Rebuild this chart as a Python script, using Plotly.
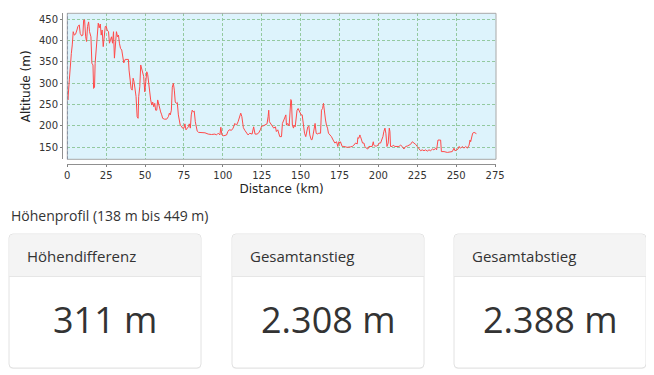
import plotly.graph_objects as go

# ---------------- data ----------------
distance_km = [
    0.0, 0.4, 1.3, 1.9, 2.6, 3.2, 3.8, 4.5, 5.3, 6.2, 6.8, 7.7, 8.3, 9.2, 10.0, 10.5, 11.1, 11.8, 12.4, 13.0,
    13.7, 14.3, 15.2, 15.8, 16.5, 16.9, 17.5, 17.9, 18.6, 19.2, 19.9, 20.5, 21.2, 21.8, 22.4, 23.1, 23.7, 24.4,
    25.0, 25.6, 26.5, 27.1, 27.8, 28.4, 29.1, 29.7, 30.3, 31.0, 31.6, 32.3, 32.9, 33.5, 34.2, 35.0, 35.7, 36.3,
    37.2, 38.2, 39.3, 39.7, 40.4, 41.0, 41.7, 42.3, 42.9, 43.6, 44.2, 44.9, 45.5, 45.9, 46.6, 47.2, 47.9, 48.5,
    49.1, 49.8, 50.4, 51.1, 51.7, 52.4, 53.0, 53.6, 54.3, 54.9, 55.6, 56.2, 56.8, 57.5, 58.1, 58.8, 59.4, 60.0,
    60.7, 61.3, 62.4, 63.9, 65.0, 65.6, 66.2, 66.9, 67.5, 68.2, 68.8, 69.4, 70.1, 70.7, 71.4, 72.0, 72.6, 73.3,
    74.1, 75.0, 75.6, 76.3, 77.1, 77.8, 78.4, 79.1, 79.7, 80.3, 81.0, 81.6, 82.3, 82.9, 83.5, 84.4, 86.3, 88.5,
    90.6, 92.7, 94.9, 95.9, 97.0, 98.1, 98.7, 99.4, 100.6, 102.4, 103.2, 104.1, 105.6, 106.6, 107.7, 108.8,
    109.8, 110.9, 111.5, 112.2, 112.6, 113.2, 114.1, 115.2, 116.2, 117.3,
    118.8, 119.8, 120.7, 122.0, 123.1, 124.1, 125.0, 125.9, 127.4, 128.4, 129.1, 129.5, 129.9, 130.6, 131.7,
    132.7, 133.8, 134.4, 135.3, 136.6, 137.7, 138.3, 139.2, 139.8, 140.5, 140.9, 141.7, 142.6, 143.2, 143.7,
    144.1, 144.7, 145.4, 145.8, 146.5, 147.1, 147.7, 148.4, 149.0, 149.7, 150.3, 151.0, 151.6, 152.5, 153.3,
    154.0, 154.6, 155.3, 155.9, 156.8, 157.4, 158.0, 158.7, 159.3, 160.0, 160.6, 161.7, 162.8, 163.4, 164.1,
    164.7, 165.3, 166.0, 166.6, 167.3, 167.9, 168.8, 169.8, 170.9, 172.0, 173.1, 173.9, 174.6, 175.2, 175.6,
    176.7, 177.8, 179.9, 182.1, 183.2, 184.2, 185.3, 186.4, 186.8, 187.4, 188.1, 188.5, 189.2, 189.8, 190.7,
    191.3, 192.2, 193.2, 193.9, 195.0, 196.0, 196.7, 197.1, 197.7, 198.8, 199.7, 200.5, 201.4, 202.3, 202.9,
    203.5, 204.2, 204.8, 205.5, 206.3, 207.0, 207.4, 207.8, 208.9, 209.5, 210.6, 212.1, 213.2, 214.3, 215.3,
    216.4, 217.5, 218.6, 219.6, 220.7, 221.8, 222.9, 223.9, 225.0, 226.1, 227.1, 228.2, 229.3, 230.4, 231.4,
    232.5, 233.6, 234.7, 235.7, 236.8, 237.4, 238.3, 239.2, 240.0, 240.5, 242.2, 244.3, 246.5, 247.5, 248.6,
    249.2, 250.3, 251.2, 251.8, 252.9, 254.0, 255.0, 256.1, 257.2, 258.3, 258.9, 259.3, 260.0, 260.6, 261.5,
    262.1, 263.0,
]
altitude_m = [
    277, 261, 308, 350, 370, 390, 421, 413, 415, 425, 433, 437, 417, 411, 413, 448, 449, 409, 398, 433,
    444, 421, 409, 347, 343, 288, 291, 347, 390, 417, 441, 430, 439, 413, 425, 386, 413, 433,
    434, 425, 421, 394, 402, 409, 394, 421, 359, 409, 421, 409, 413, 394, 382, 378, 359, 348,
    356, 356, 356, 331, 308, 288, 284, 312, 304, 284, 269, 222, 218, 269, 292, 343, 331, 320,
    316, 280, 308, 327, 320, 292, 277, 261, 249, 256, 245, 253, 237, 237, 261, 249, 245, 233,
    226, 218, 216, 216, 222, 230, 226, 237, 291, 300, 284, 256, 253, 255, 226, 210, 202, 200,
    195, 195, 205, 191, 195, 198, 205, 195, 226, 237, 233, 235, 210, 195, 188, 185, 184, 184,
    181, 180, 181, 179, 183, 179, 197, 179, 177, 179, 187, 191, 190, 195, 206, 202,
    210, 226, 230, 222, 206, 196, 190, 183, 179, 183,
    181, 198, 181, 181, 184, 191, 200, 200, 202, 205, 222, 237, 210, 206, 200,
    195, 198, 187, 191, 175, 175, 206, 214, 222, 226, 202, 206, 200, 237, 262,
    260, 202, 195, 202, 198, 230, 237, 241, 237, 230, 226, 226, 210, 183, 175,
    187, 198, 200, 179, 168, 168, 179, 198, 206, 183, 181, 183, 183, 237, 241,
    253, 230, 214, 202, 195, 183, 179, 175, 167, 160, 163, 152, 163, 160, 163,
    152, 152, 150, 151, 152, 155, 160, 158, 173, 171, 179, 175, 167, 160, 160,
    152, 148, 146, 152, 152, 152, 163, 155, 153, 153, 155, 160, 160, 167, 175,
    187, 195, 183, 152, 160, 195, 187, 152, 152, 155, 152, 153, 152, 155, 152,
    146, 152, 153, 155, 157, 163, 160, 157, 152, 148, 142, 144, 142, 144, 141,
    144, 142, 146, 144, 148, 144, 167, 167, 167, 140, 140, 138, 140, 140, 148,
    142, 144, 146, 152, 148, 152, 148, 152, 148, 155, 167, 163, 175, 183, 185,
    183, 182,
]
x_ticks = [0, 25, 50, 75, 100, 125, 150, 175, 200, 225, 250, 275]
y_ticks = [150, 200, 250, 300, 350, 400, 450]

summary_title = "Höhenprofil (138 m bis 449 m)"
card_labels = ["Höhendifferenz", "Gesamtanstieg", "Gesamtabstieg"]
card_values = ["311 m", "2.308 m", "2.388 m"]

# ---------------- layout helpers (page pixel -> paper) ----------------
# the page body has an 8px default margin, so the figure is offset by 8px
OFF = 8
W, H = 654 - OFF, 375 - OFF


def px(x):
    return (x - OFF) / W


def py(y):
    return 1 - (y - OFF) / H


def rounded_path(x0, y0, x1, y1, r, top_only=False):
    if top_only:
        return (
            f"M {px(x0)},{py(y1)} L {px(x0)},{py(y0 + r)} "
            f"Q {px(x0)},{py(y0)} {px(x0 + r)},{py(y0)} "
            f"L {px(x1 - r)},{py(y0)} Q {px(x1)},{py(y0)} {px(x1)},{py(y0 + r)} "
            f"L {px(x1)},{py(y1)} Z"
        )
    return (
        f"M {px(x0 + r)},{py(y0)} L {px(x1 - r)},{py(y0)} "
        f"Q {px(x1)},{py(y0)} {px(x1)},{py(y0 + r)} "
        f"L {px(x1)},{py(y1 - r)} Q {px(x1)},{py(y1)} {px(x1 - r)},{py(y1)} "
        f"L {px(x0 + r)},{py(y1)} Q {px(x0)},{py(y1)} {px(x0)},{py(y1 - r)} "
        f"L {px(x0)},{py(y0 + r)} Q {px(x0)},{py(y0)} {px(x0 + r)},{py(y0)} Z"
    )


fig = go.Figure()
fig.add_trace(go.Scatter(
    x=distance_km, y=altitude_m, mode="lines",
    line=dict(color="#ff4a4a", width=1), hoverinfo="skip", showlegend=False,
))

tick_font = dict(family="DejaVu Sans", size=10, color="#333333")
title_font = dict(family="DejaVu Sans", size=12, color="#222222")
grid_col = "#93c9a0"

fig.update_layout(
    width=W, height=H,
    margin=dict(l=0, r=0, t=0, b=0),
    paper_bgcolor="white",
    plot_bgcolor="#ddf3fc",
    xaxis=dict(
        domain=[px(67.3), px(496)], range=[0, 275.6],
        anchor="free", position=py(164),
        tickvals=x_ticks, ticks="outside", ticklen=2, tickcolor="#808080",
        showline=True, linecolor="#909090", linewidth=1,
        showgrid=True, gridcolor=grid_col, griddash="3px,2px", gridwidth=1,
        zeroline=False, tickfont=tick_font,
        title=dict(text="Distance (km)", font=title_font, standoff=4),
        automargin=False,
    ),
    yaxis=dict(
        domain=[py(159.3), py(13.3)], range=[121.9, 464.1],
        anchor="free", position=px(62),
        tickvals=y_ticks, ticks="outside", ticklen=2, tickcolor="#808080",
        showline=True, linecolor="#909090", linewidth=1,
        showgrid=True, gridcolor=grid_col, griddash="3px,2px", gridwidth=1,
        zeroline=False, tickfont=tick_font,
        title=dict(text="Altitude (m)", font=title_font, standoff=4),
        automargin=False,
    ),
)

shapes = []
shapes.append(dict(type="rect", xref="x domain", yref="y domain", x0=0, x1=1, y0=0, y1=1,
                   line=dict(color="#a8a8a8", width=1), fillcolor="rgba(0,0,0,0)", layer="above"))
shapes.append(dict(type="line", xref="x", yref="y domain", x0=0, x1=0, y0=0, y1=1,
                   line=dict(color="#6a7a96", width=1, dash="3px,2px"), layer="above"))

annotations = [
    dict(text=summary_title, xref="paper", yref="paper", x=px(9), y=py(215.5),
         xanchor="left", yanchor="middle", showarrow=False,
         font=dict(family="Open Sans", size=14, color="#333333")),
]

card_x0 = [9, 232, 454]
card_w = 192
for i, (lab, val) in enumerate(zip(card_labels, card_values)):
    x0 = card_x0[i]
    x1 = x0 + card_w
    y0, y1 = 234, 368
    shapes.append(dict(type="path", xref="paper", yref="paper",
                       path=rounded_path(x0, y0 + 1, x1, y1 + 1, 4),
                       fillcolor="rgba(0,0,0,0.05)", line=dict(width=0), layer="below"))
    shapes.append(dict(type="path", xref="paper", yref="paper",
                       path=rounded_path(x0, y0, x1, y1, 4),
                       fillcolor="white", line=dict(color="#e2e2e2", width=1), layer="below"))
    shapes.append(dict(type="path", xref="paper", yref="paper",
                       path=rounded_path(x0 + 0.5, y0 + 0.5, x1 - 0.5, 276.5, 4, top_only=True),
                       fillcolor="#f4f4f4", line=dict(width=0), layer="below"))
    shapes.append(dict(type="line", xref="paper", yref="paper",
                       x0=px(x0), x1=px(x1), y0=py(276.5), y1=py(276.5),
                       line=dict(color="#e6e6e6", width=1), layer="below"))
    annotations.append(dict(text=lab, xref="paper", yref="paper", x=px(x0 + 16), y=py(256),
                            xanchor="left", yanchor="middle", showarrow=False,
                            font=dict(family="Open Sans", size=15, color="#333333")))
    annotations.append(dict(text=val, xref="paper", yref="paper", x=px(x0 + card_w / 2), y=py(319),
                            xanchor="center", yanchor="middle", showarrow=False,
                            font=dict(family="Open Sans", size=36, color="#333333")))

fig.update_layout(shapes=shapes, annotations=annotations)

fig.write_html("out.html")
